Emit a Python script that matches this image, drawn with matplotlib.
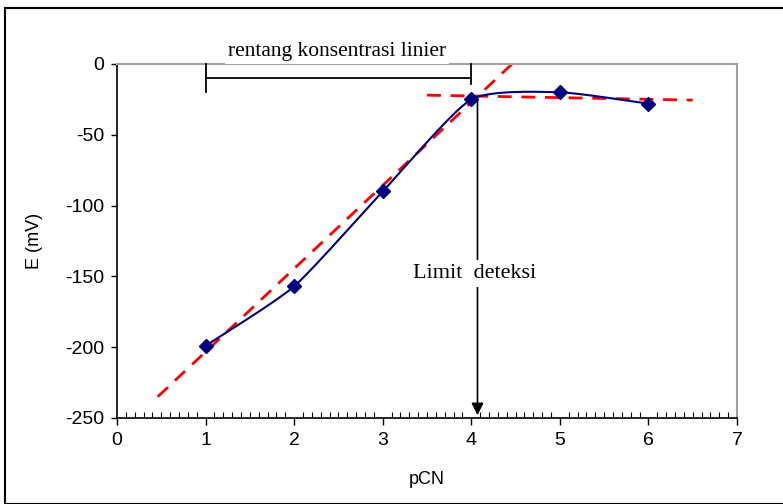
import numpy as np
import matplotlib.pyplot as plt
from matplotlib.patches import Rectangle
from matplotlib.ticker import MultipleLocator

# data
pcn = [1, 2, 3, 4, 5, 6]
e_mv = [-199, -157, -90, -25, -20, -28]
fit_x = [0.46, 4.46]
fit_y = [-235, 0]
flat_x = [3.5, 6.5]
flat_y = [-22, -25.5]
x_ticks = [0, 1, 2, 3, 4, 5, 6, 7]
y_ticks = [0, -50, -100, -150, -200, -250]


def smooth(xs, ys, n=30, k=0.6):
    # cardinal spline through the points, like Excel's smoothed line
    p = np.column_stack([xs, ys]).astype(float)
    p = np.vstack([p[0], p, p[-1]])
    out = []
    t = np.linspace(0, 1, n)[:, None]
    for i in range(1, len(p) - 2):
        p1, p2 = p[i], p[i + 1]
        m1 = k * (p[i + 1] - p[i - 1]) / 2
        m2 = k * (p[i + 2] - p[i]) / 2
        h00 = 2 * t**3 - 3 * t**2 + 1
        h10 = t**3 - 2 * t**2 + t
        h01 = -2 * t**3 + 3 * t**2
        h11 = t**3 - t**2
        out.append(h00 * p1 + h10 * m1 + h01 * p2 + h11 * m2)
    s = np.vstack(out)
    return s[:, 0], s[:, 1]


plt.rcParams['font.family'] = ['Liberation Sans', 'DejaVu Sans']
plt.rcParams['axes.unicode_minus'] = False
fig = plt.figure(figsize=(7.83, 5.04), dpi=100)
ax = fig.add_axes([117 / 783, 1 - 418 / 504, 620 / 783, 354 / 504])

fig.patches.append(Rectangle((5 / 783, 0), 1, 1 - 8 / 504, transform=fig.transFigure,
                             fill=False, edgecolor='black', lw=1.5))

sx, sy = smooth(pcn, e_mv)
ax.plot(sx, sy, color='#000080', lw=1.5, zorder=3)
ax.plot(pcn, e_mv, 'D', color='#000080', ms=7, zorder=4)
ax.plot(fit_x, fit_y, color='red', lw=2, dashes=(5, 3.5), zorder=2)
ax.plot(flat_x, flat_y, color='red', lw=2, dashes=(5, 3.5), zorder=2)

ax.set_xlim(0, 7)
ax.set_ylim(-250, 0)
ax.set_xticks(x_ticks)
ax.set_yticks(y_ticks)
ax.xaxis.set_minor_locator(MultipleLocator(0.1))
ax.tick_params(axis='x', which='major', direction='out', length=5, width=1, labelsize=14, pad=5)
ax.tick_params(axis='x', which='minor', direction='in', length=4, width=0.8)
ax.tick_params(axis='y', direction='out', length=4, width=1, labelsize=14, pad=5)
ax.set_xlabel('pCN', fontsize=13, labelpad=16)
ax.set_ylabel('E (mV)', fontsize=13, labelpad=16)
for s in ['top', 'right']:
    ax.spines[s].set_color('#a0a0a0')
    ax.spines[s].set_linewidth(1.5)
for s in ['left', 'bottom']:
    ax.spines[s].set_linewidth(1.2)

# linear range bracket
ax.plot([1, 1], [0, -20], color='black', lw=1.3, clip_on=False, zorder=5)
ax.plot([4, 4], [0, -14], color='black', lw=1.3, clip_on=False, zorder=5)
ax.plot([1, 4], [-10, -10], color='black', lw=1.3, zorder=5)
ax.text(2.48, 8.5, 'rentang konsentrasi linier', ha='center', va='center',
        family='Liberation Serif', fontsize=15.5, clip_on=False, zorder=6,
        bbox=dict(facecolor='white', edgecolor='none', pad=2))

# detection limit arrow
ax.annotate('', xy=(4.07, -250), xytext=(4.07, -23),
            arrowprops=dict(arrowstyle='-|>', color='black', lw=1.2, mutation_scale=18), zorder=5)
ax.text(4.04, -148, 'Limit  deteksi', ha='center', va='center',
        family='Liberation Serif', fontsize=16, zorder=6,
        bbox=dict(facecolor='white', edgecolor='none', pad=3))

fig.savefig('out.png', dpi=100)
